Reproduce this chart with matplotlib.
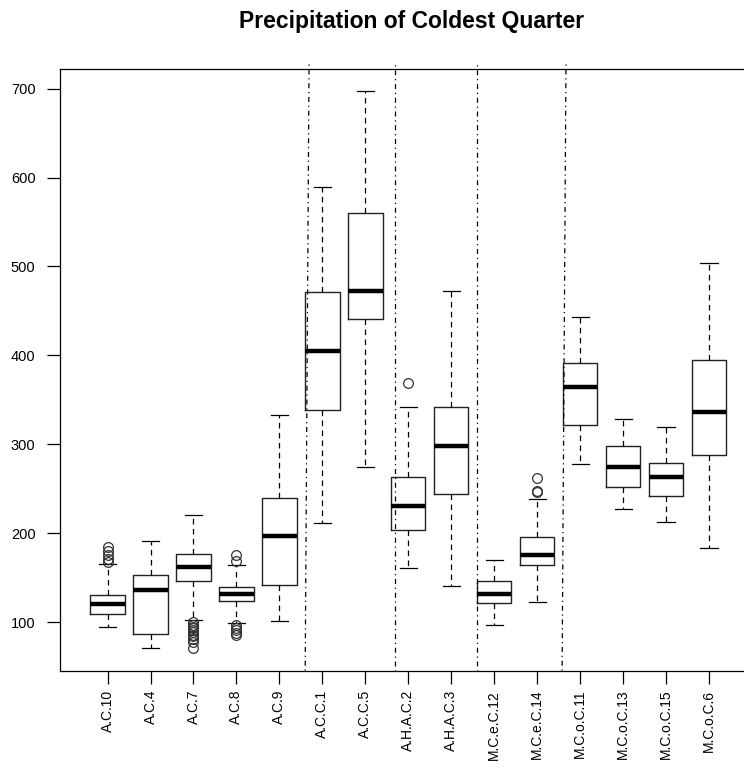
import matplotlib
matplotlib.use("Agg")
import matplotlib.pyplot as plt

plt.rcParams['font.family'] = ['Liberation Sans', 'DejaVu Sans']

groups = ["A.C.10", "A.C.4", "A.C.7", "A.C.8", "A.C.9",
          "A.C.C.1", "A.C.C.5", "A.H.A.C.2", "A.H.A.C.3",
          "M.C.e.C.12", "M.C.e.C.14",
          "M.C.o.C.11", "M.C.o.C.13", "M.C.o.C.15", "M.C.o.C.6"]

whisk_lo = [95, 70.5, 102.5, 99.5, 101.5, 211, 275, 161, 140.5, 96.5, 122.5, 277.5, 227, 213, 183.5]
q1 = [109, 87, 146, 124, 142, 339, 440.5, 203.5, 244, 121.5, 164, 322, 252, 242, 287.5]
median = [120, 136, 161.5, 131.5, 197, 405, 472.5, 231, 298, 132, 176, 364.5, 274.5, 263, 336]
q3 = [131, 153, 176.5, 140, 240, 471, 560, 263.5, 341.5, 146, 196, 391.5, 298, 279.5, 394.5]
whisk_hi = [165, 191, 221, 164.5, 333.5, 589, 697, 341.5, 472.5, 169.5, 238, 443.5, 328, 319, 504]
outliers = [
    [184, 180, 176, 171, 168],
    [],
    [100, 97, 95, 93, 91, 89, 86, 84, 81, 78, 71],
    [176, 169, 97, 94, 91, 88, 86],
    [], [], [], [368.5], [], [], [262, 248, 246], [], [], [], [],
]

# group separators (slightly slanted: bottom, top)
sep_bottom = [5.60, 7.68, 9.59, 11.58]
sep_top = [5.69, 7.68, 9.59, 11.67]

stats = []
for i, g in enumerate(groups):
    stats.append(dict(label=g, whislo=whisk_lo[i], q1=q1[i], med=median[i],
                      q3=q3[i], whishi=whisk_hi[i], fliers=outliers[i]))

fig = plt.figure(figsize=(7.44, 7.68), dpi=100)
ax = fig.add_axes([60.3 / 744, 1 - 670.7 / 768, 696 / 744, (670.7 - 69) / 768])

pos = list(range(1, len(groups) + 1))
ax.bxp(stats, positions=pos, widths=0.8, showfliers=True,
       boxprops=dict(color='#222222', linewidth=1.0),
       medianprops=dict(color='black', linewidth=3.2, solid_capstyle='butt'),
       whiskerprops=dict(color='black', linewidth=0.9, linestyle=(0, (4.5, 3.5))),
       capprops=dict(color='black', linewidth=0.9),
       capwidths=0.4,
       flierprops=dict(marker='o', markerfacecolor='none', markeredgecolor='#333333',
                       markersize=7, markeredgewidth=0.9))

lo = min(min(whisk_lo), min(min(o) for o in outliers if o))
hi = max(max(whisk_hi), max(max(o) for o in outliers if o))
pad = 0.04 * (hi - lo)
ax.set_ylim(lo - pad, hi + pad)
ax.set_xlim(0.5 - 0.6, len(groups) + 0.5 + 0.6)

top_ext = hi + pad + 6
for xb, xt in zip(sep_bottom, sep_top):
    ax.plot([xb, xt], [lo - pad, top_ext], color='black', linewidth=0.9,
            linestyle=(0, (1, 3, 4, 3)), clip_on=False)

ax.set_yticks([100, 200, 300, 400, 500, 600, 700])
ax.set_xticks(pos)
ax.set_xticklabels(groups, rotation=90, fontsize=10, va='top')
ax.tick_params(axis='y', direction='out', length=9.5, width=0.9, pad=8.4, labelsize=10.5)
ax.tick_params(axis='x', direction='out', length=9.5, width=0.9, pad=4.3)
for s in ax.spines.values():
    s.set_linewidth(0.9)

fig.text(412 / 744, 1 - 28 / 768, "Precipitation of Coldest Quarter",
         ha='center', va='baseline', fontsize=16.5, fontweight='bold')

fig.savefig("out.png", dpi=100)
